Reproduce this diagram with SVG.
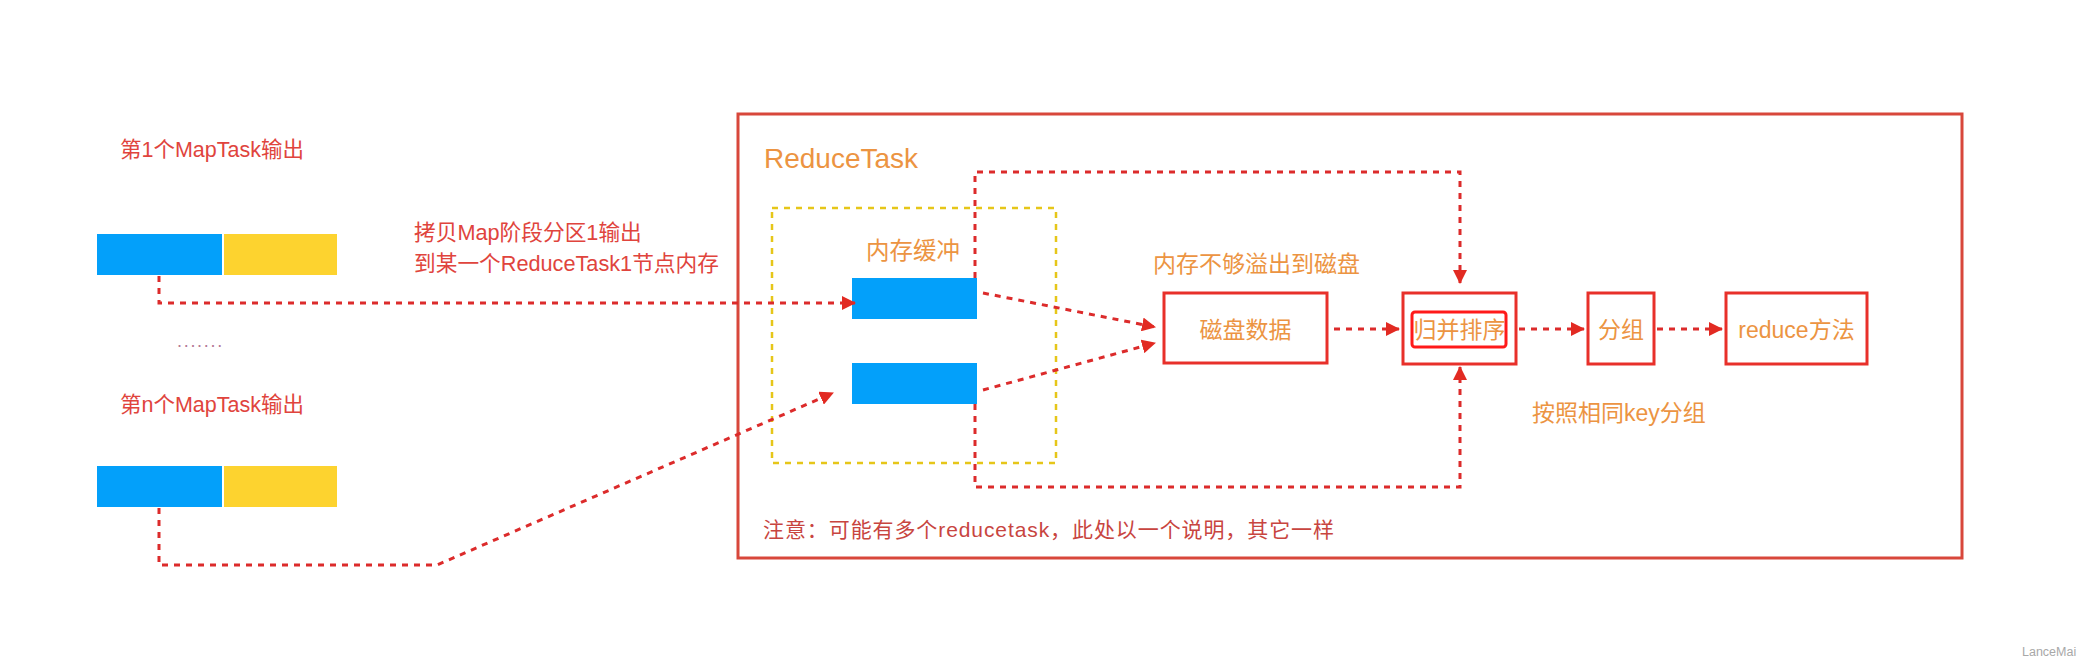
<svg xmlns="http://www.w3.org/2000/svg" width="2089" height="665" viewBox="0 0 2089 665">
<style>
text{font-family:"Liberation Sans","Noto Sans CJK SC",sans-serif}
.red{fill:#e0443d}
.org{fill:#ec9442}
.box{fill:#fff;stroke:#e8302a;stroke-width:3}
.con{fill:none;stroke:#dc2b2b;stroke-width:3;stroke-dasharray:6 6}
.blue{fill:#03a0fa}
.yel{fill:#fdd32f}
</style>
<defs>
<marker id="ah" markerUnits="userSpaceOnUse" markerWidth="14" markerHeight="14" refX="13" refY="7" orient="auto">
<path d="M0,0 L14,7 L0,14 z" fill="#e22a22"/>
</marker>
</defs>
<rect width="2089" height="665" fill="#fff"/>

<g id="reducetask">
<rect x="738" y="114" width="1224" height="444" fill="none" stroke="#d8473b" stroke-width="3"/>
<text x="764" y="168" font-size="28" class="org">ReduceTask</text>
<text x="763" y="537" font-size="21" fill="#c8453f" textLength="571" lengthAdjust="spacing">注意：可能有多个reducetask，此处以一个说明，其它一样</text>
</g>

<g id="map1">
<text x="120" y="157" font-size="21.5" class="red">第1个MapTask输出</text>
<rect x="97" y="234" width="125" height="41" class="blue"/>
<rect x="224" y="234" width="113" height="41" class="yel"/>
</g>

<g id="dots">
<text x="177" y="347" font-size="18" fill="#b47a96" letter-spacing="1.7">.......</text>
</g>

<g id="mapn">
<text x="120" y="412" font-size="21.5" class="red">第n个MapTask输出</text>
<rect x="97" y="466" width="125" height="41" class="blue"/>
<rect x="224" y="466" width="113" height="41" class="yel"/>
</g>

<g id="copy-label">
<text x="414" y="240" font-size="21.7" class="red">拷贝Map阶段分区1输出</text>
<text x="414" y="271" font-size="21.7" class="red">到某一个ReduceTask1节点内存</text>
</g>

<g id="buffer">
<rect x="772" y="208" width="284" height="255" fill="none" stroke="#e6c619" stroke-width="2.5" stroke-dasharray="6 6"/>
<text x="866" y="259" font-size="23.5" class="org">内存缓冲</text>
<rect x="852" y="278" width="125" height="41" class="blue"/>
<rect x="852" y="363" width="125" height="41" class="blue"/>
</g>

<g id="spill-label">
<text x="1153" y="272" font-size="23" class="org">内存不够溢出到磁盘</text>
</g>

<g id="disk">
<rect x="1164" y="293" width="163" height="70" class="box"/>
<text x="1245.5" y="338" font-size="23" class="org" text-anchor="middle">磁盘数据</text>
</g>

<g id="merge">
<rect x="1403" y="293" width="113" height="71" class="box"/>
<rect x="1412" y="312" width="94" height="35" rx="3" fill="none" stroke="#ff1a1a" stroke-width="3"/>
<text x="1459.5" y="338" font-size="23" class="org" text-anchor="middle">归并排序</text>
</g>

<g id="group">
<rect x="1588" y="293" width="66" height="71" class="box"/>
<text x="1621" y="338" font-size="23" class="org" text-anchor="middle">分组</text>
<text x="1532" y="421" font-size="23" class="org">按照相同key分组</text>
</g>

<g id="reduce">
<rect x="1726" y="293" width="141" height="71" class="box"/>
<text x="1796.5" y="338" font-size="23" class="org" text-anchor="middle">reduce方法</text>
</g>

<g id="connectors">
<path class="con" d="M159,276 V303 H855" marker-end="url(#ah)"/>
<path class="con" d="M159,508 V565 H437 L833,393" marker-end="url(#ah)"/>
<path class="con" d="M983,293 L1155,327" marker-end="url(#ah)"/>
<path class="con" d="M983,390 L1155,343" marker-end="url(#ah)"/>
<path class="con" d="M1334,329 H1399" marker-end="url(#ah)"/>
<path class="con" d="M1519,329 H1584" marker-end="url(#ah)"/>
<path class="con" d="M1657,329 H1722" marker-end="url(#ah)"/>
<path class="con" d="M975,278 V172 H1460 V283" marker-end="url(#ah)"/>
<path class="con" d="M975,404 V487 H1460 V367" marker-end="url(#ah)"/>
</g>

<g id="watermark">
<text x="2022" y="656" font-size="12.5" fill="#a8a8a8">LanceMai</text>
</g>
</svg>
